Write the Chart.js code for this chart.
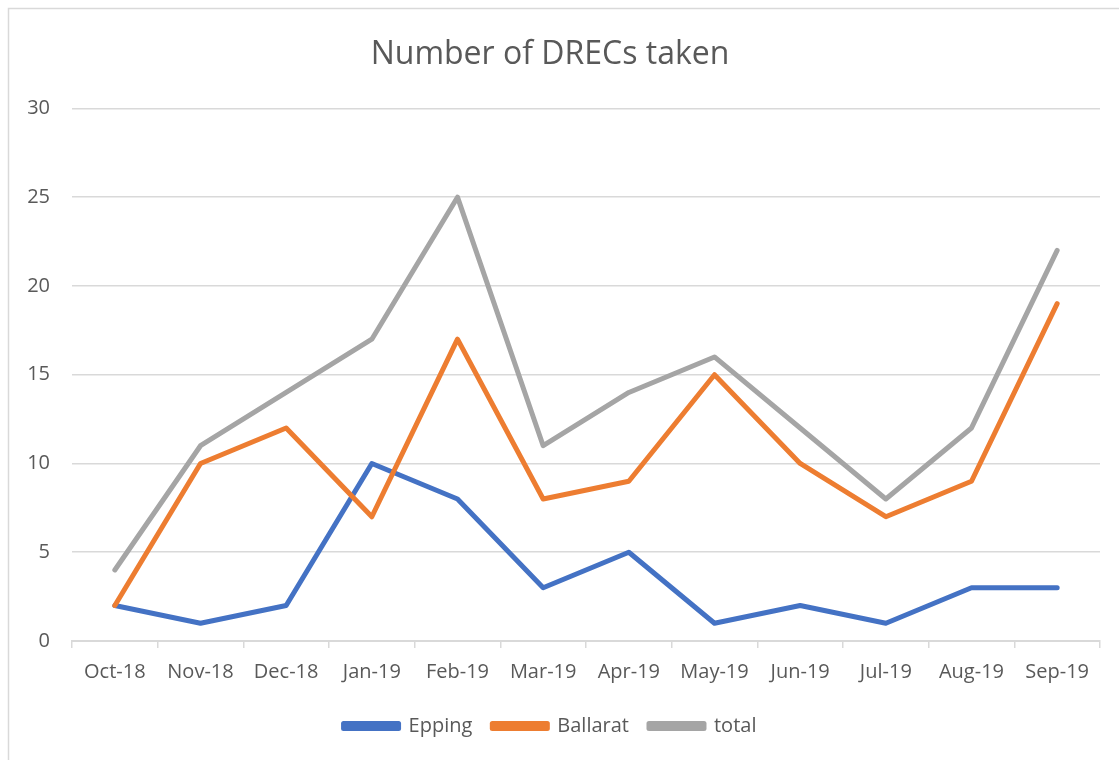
<!DOCTYPE html>
<html>
<head>
<meta charset="utf-8">
<script src="https://cdn.jsdelivr.net/npm/chart.js@4"></script>
<style>
  html, body { margin: 0; padding: 0; background: #fff; }
  #wrap { width: 1119px; height: 760px; position: relative; }
</style>
</head>
<body>
<div id="wrap"><canvas id="drecs" width="1119" height="760"></canvas></div>
<script>
const months = ["Oct-18","Nov-18","Dec-18","Jan-19","Feb-19","Mar-19","Apr-19","May-19","Jun-19","Jul-19","Aug-19","Sep-19"];
const epping   = [2, 1, 2, 10, 8, 3, 5, 1, 2, 1, 3, 3];
const ballarat = [2, 10, 12, 7, 17, 8, 9, 15, 10, 7, 9, 19];
const total    = [4, 11, 14, 17, 25, 11, 14, 16, 12, 8, 12, 22];

const grå = "#595959";
const font = "'Open Sans', 'Noto Sans', sans-serif";

// thin frame like the excel chart area
const ram = {
  id: "ram",
  beforeDraw(chart) {
    const c = chart.ctx;
    c.save();
    c.strokeStyle = "#d9d9d9";
    c.lineWidth = 1.5;
    c.strokeRect(8.5, 8.5, 1200, 800);
    c.restore();
  },
};

const linje = (label, data, color, order) => ({
  label, data, order,
  borderColor: color,
  backgroundColor: color,
  borderWidth: 5,
  borderCapStyle: "round",
  borderJoinStyle: "round",
  pointRadius: 0,
  tension: 0,
  fill: false,
});

new Chart(document.getElementById("drecs"), {
  type: "line",
  data: {
    labels: months,
    datasets: [
      linje("Epping", epping, "#4472c4", 3),
      linje("Ballarat", ballarat, "#ed7d31", 2),
      linje("total", total, "#a5a5a5", 1),
    ],
  },
  plugins: [ram],
  options: {
    responsive: false,
    animation: false,
    devicePixelRatio: 1,
    layout: { padding: { left: 0, right: 19, top: 36, bottom: 14 } },
    plugins: {
      title: {
        display: true,
        text: "Number of DRECs taken",
        color: grå,
        font: { family: font, size: 32, weight: "normal" },
        padding: { top: 0, bottom: 34 },
      },
      legend: {
        position: "bottom",
        labels: {
          color: grå,
          font: { family: font, size: 20 },
          boxWidth: 55,
          boxHeight: 5,
          padding: 20,
          sort: (a, b) => a.datasetIndex - b.datasetIndex,
        },
      },
      tooltip: { enabled: false },
    },
    scales: {
      x: {
        offset: true,
        grid: {
          offset: true,
          drawOnChartArea: false,
          drawTicks: true,
          tickLength: 7,
          color: "#d9d9d9",
          lineWidth: 1.5,
        },
        border: { display: true, color: "#d9d9d9", width: 2 },
        ticks: {
          color: grå,
          font: { family: font, size: 20 },
          padding: 12,
          maxRotation: 0,
          autoSkip: false,
        },
      },
      y: {
        min: 0,
        max: 30,
        grid: { color: "#d9d9d9", lineWidth: 1.5, drawTicks: false },
        border: { display: false },
        ticks: {
          stepSize: 5,
          color: grå,
          font: { family: font, size: 20 },
          padding: 22,
        },
        afterFit: (s) => { s.width = 72; },
      },
    },
  },
});
</script>
</body>
</html>
